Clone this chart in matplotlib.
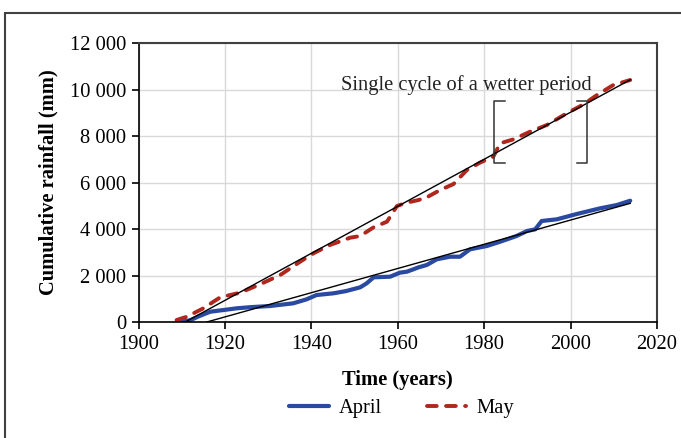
import numpy as np
import matplotlib.pyplot as plt
from matplotlib.ticker import FuncFormatter
from matplotlib.patches import Rectangle

plt.rcParams['font.family'] = ['Liberation Serif', 'DejaVu Serif']

# cumulative rainfall
april_years = [1909.6, 1912, 1914, 1916.6, 1919, 1922.7, 1926, 1930.4, 1935.8, 1938.9, 1941.2,
               1945.1, 1948, 1951.3, 1952.8, 1954.4, 1958.2, 1960.5, 1962.1, 1963.6, 1964.8,
               1966.7, 1969, 1972.1, 1974.4, 1976.7, 1980.6, 1983.7, 1987.5, 1989.9, 1991.8,
               1993.3, 1996.8, 2001.4, 2006.8, 2010.7, 2013.8]
april_rain = [0, 80, 250, 443, 500, 589, 640, 688, 804, 976, 1161,
              1234, 1330, 1492, 1664, 1922, 1949, 2122, 2164, 2266, 2352,
              2452, 2696, 2809, 2809, 3126, 3269, 3454, 3699, 3914, 3986,
              4344, 4417, 4645, 4889, 5032, 5217]

may_years = [1908.8, 1911.2, 1915, 1918.9, 1923.5, 1928.1, 1932.8, 1937.4, 1940.5, 1944.3,
             1949, 1951.3, 1954.4, 1957.5, 1959.8, 1962.1, 1964.8, 1966.7, 1969.8, 1972.9,
             1976, 1979, 1982.1, 1983.7, 1986.8, 1990.6, 1994.5, 1999.1, 2003, 2006.1,
             2009.9, 2013.8]
may_rain = [86, 229, 589, 1062, 1261, 1620, 2022, 2594, 2954, 3312,
            3627, 3699, 4072, 4315, 4989, 5133, 5247, 5362, 5677, 5935,
            6538, 6852, 7110, 7686, 7858, 8185, 8473, 8976, 9363, 9763,
            10194, 10409]

# linear trend lines (end points)
may_trend_x = [1910.8, 2013.8]
may_trend_y = [0, 10420]
april_trend_x = [1915.8, 2013.8]
april_trend_y = [0, 5105]

# bracket around the wetter period
bracket_left, bracket_right = 1982.3, 2003.9
bracket_low, bracket_high = 6824, 9518

fs = 14.8

fig = plt.figure(figsize=(6.81, 4.38), dpi=100)
fig.patches.append(Rectangle((5 / 681, -0.1), 1.2, 1.1 - 13 / 438, transform=fig.transFigure,
                             fill=False, edgecolor='#404040', linewidth=1.5))
ax = fig.add_axes([0.2034, 0.2648, 0.7614, 0.637])

ax.plot(april_years, april_rain, color='#2a49a0', linewidth=3, solid_capstyle='round', label='April')
ax.plot(may_years, may_rain, color='#b0271d', linewidth=2.8, linestyle=(0, (2.5, 2.4)),
        dash_capstyle='round', label='May')
ax.plot(may_trend_x, may_trend_y, color='black', linewidth=1)
ax.plot(april_trend_x, april_trend_y, color='black', linewidth=1)

tick = 2.5
for x, d in [(bracket_left, tick), (bracket_right, -tick)]:
    ax.plot([x + d, x, x, x + d], [bracket_high, bracket_high, bracket_low, bracket_low],
            color='#333333', linewidth=1.1)

ax.text(1975.8, 10200, 'Single cycle of a wetter period', fontsize=fs, ha='center', va='center',
        color='#222222')

ax.set_xlim(1900, 2020)
ax.set_ylim(0, 12000)
ax.set_xticks(range(1900, 2021, 20))
ax.set_yticks(range(0, 12001, 2000))
ax.yaxis.set_major_formatter(FuncFormatter(lambda v, p: '{:,.0f}'.format(v).replace(',', ' ')))
ax.grid(True, color='#d9d9d9', linewidth=1)
ax.set_axisbelow(True)
ax.tick_params(labelsize=fs, length=5, width=1.2, colors='black', pad=4)
for s in ['top', 'right']:
    ax.spines[s].set_color('#404040')
    ax.spines[s].set_linewidth(1.5)
for s in ['left', 'bottom']:
    ax.spines[s].set_linewidth(1.2)

ax.set_xlabel('Time (years)', fontsize=fs, fontweight='bold', labelpad=12)
ax.set_ylabel('Cumulative rainfall (mm)', fontsize=fs, fontweight='bold', labelpad=8)

fig.legend(loc='center', bbox_to_anchor=(0.59, 0.068), ncol=2, frameon=False, fontsize=fs,
           handlelength=1.9, columnspacing=2.2, handletextpad=0.5)

fig.savefig('out.png', dpi=100)
